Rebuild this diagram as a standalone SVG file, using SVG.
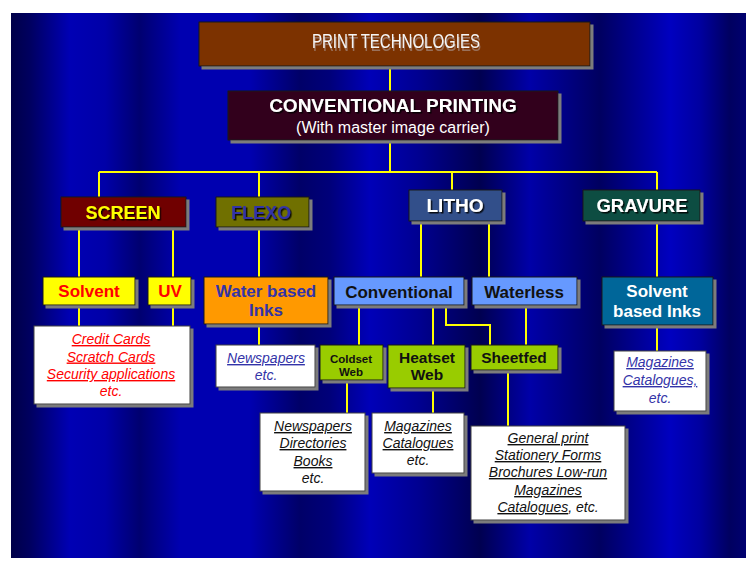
<svg xmlns="http://www.w3.org/2000/svg" width="746" height="561" viewBox="0 0 746 561">
<defs>
<linearGradient id="bg" gradientUnits="userSpaceOnUse" x1="11" y1="0" x2="746" y2="0">
<stop offset="0" stop-color="#000048"/>
<stop offset="0.026" stop-color="#000060"/>
<stop offset="0.080" stop-color="#0000b4"/>
<stop offset="0.128" stop-color="#0000a8"/>
<stop offset="0.175" stop-color="#000070"/>
<stop offset="0.230" stop-color="#0000b0"/>
<stop offset="0.325" stop-color="#0000b0"/>
<stop offset="0.393" stop-color="#000068"/>
<stop offset="0.434" stop-color="#00007a"/>
<stop offset="0.488" stop-color="#0000b8"/>
<stop offset="0.556" stop-color="#000090"/>
<stop offset="0.638" stop-color="#000050"/>
<stop offset="0.706" stop-color="#0000a8"/>
<stop offset="0.801" stop-color="#000060"/>
<stop offset="0.897" stop-color="#0000c0"/>
<stop offset="0.937" stop-color="#0000a0"/>
<stop offset="0.978" stop-color="#000060"/>
<stop offset="1" stop-color="#000070"/>
</linearGradient>
<filter id="bs" x="-5%" y="-10%" width="115%" height="135%">
<feFlood flood-color="#7c7c7c"/>
<feComposite in2="SourceAlpha" operator="in"/>
<feOffset dx="3" dy="3"/>
<feMerge><feMergeNode/><feMergeNode in="SourceGraphic"/></feMerge>
</filter>
<filter id="ts" x="-10%" y="-30%" width="120%" height="170%">
<feDropShadow dx="1.5" dy="1.5" stdDeviation="0.4" flood-color="#000" flood-opacity="0.85"/>
</filter>
<filter id="ts2" x="-10%" y="-30%" width="120%" height="180%">
<feDropShadow dx="1" dy="3" stdDeviation="0.3" flood-color="#a08070" flood-opacity="0.8"/>
</filter>
</defs>
<style>
.box{stroke:#1a1a1a;stroke-width:1;filter:url(#bs)}
.wbox{fill:#fff;stroke:#404040;stroke-width:1;filter:url(#bs)}
.t{font-family:"Liberation Sans",Arial,sans-serif;text-anchor:middle}
.b{font-weight:bold}
.sh{filter:url(#ts)}
.it{font-style:italic;font-size:14px}
.u{text-decoration:underline}
.red{fill:#ff0000}
.blu{fill:#3333a8}
.blk{fill:#111}
.con{fill:none;stroke:#ffff00;stroke-width:2}
</style>
<rect x="0" y="0" width="746" height="561" fill="#fff"/>
<rect x="11" y="13" width="735" height="545" fill="url(#bg)"/>

<g id="connectors" class="con">
<path d="M390 66V91"/>
<path d="M390 140V172"/>
<path d="M99 172H657"/>
<path d="M99 172V197M259 172V197M452 172V190M657 172V190"/>
<path d="M79 227V277M173 227V277M79 305V326M173 305V326"/>
<path d="M259 227V277M259 324V345"/>
<path d="M421 221V277M489 221V277"/>
<path d="M657 221V277M657 325V351"/>
<path d="M359 305V345M433 305V345M446 305V325H490V345M526 305V345"/>
<path d="M347 380V413M433 388V413M508 370V426"/>
</g>

<g id="print-technologies">
<rect class="box" x="199" y="22" width="391" height="44" fill="#7b3200"/>
<text class="t" x="396" y="48" font-size="21" fill="#f4f4f4" textLength="168" lengthAdjust="spacingAndGlyphs" filter="url(#ts2)">PRINT  TECHNOLOGIES</text>
</g>

<g id="conventional-printing">
<rect class="box" x="228" y="91" width="330" height="49" fill="#32001a"/>
<text class="t b sh" x="393" y="112" font-size="19" fill="#fff">CONVENTIONAL PRINTING</text>
<text class="t" x="393" y="133" font-size="16" fill="#fff">(With master image carrier)</text>
</g>

<g id="screen">
<rect class="box" x="61" y="197" width="125" height="30" fill="#700000"/>
<text class="t b sh" x="123" y="218.5" font-size="18" fill="#ffff00">SCREEN</text>
</g>
<g id="flexo">
<rect class="box" x="216" y="197" width="93" height="30" fill="#707000"/>
<text class="t b sh" x="261" y="218.5" font-size="18" fill="#3333a8">FLEXO</text>
</g>
<g id="litho">
<rect class="box" x="409" y="190" width="93" height="31" fill="#33508a"/>
<text class="t b sh" x="455" y="212" font-size="19" fill="#fff">LITHO</text>
</g>
<g id="gravure">
<rect class="box" x="583" y="190" width="117" height="31" fill="#0b4d42"/>
<text class="t b sh" x="642" y="212" font-size="18.5" fill="#fff">GRAVURE</text>
</g>

<g id="solvent">
<rect class="box" x="43" y="277" width="92" height="28" fill="#ffff00"/>
<text class="t b" x="89" y="297" font-size="17" fill="#ff0000">Solvent</text>
</g>
<g id="uv">
<rect class="box" x="148" y="277" width="43" height="28" fill="#ffff00"/>
<text class="t b" x="170" y="297" font-size="17" fill="#ff0000">UV</text>
</g>
<g id="water-based-inks">
<rect class="box" x="204" y="277" width="124" height="47" fill="#ff9900"/>
<text class="t b" x="266" y="297" font-size="17" fill="#3333a8">Water based</text>
<text class="t b" x="266" y="316" font-size="17" fill="#3333a8">Inks</text>
</g>
<g id="conventional">
<rect class="box" x="334" y="277" width="130" height="28" fill="#6699ff"/>
<text class="t b blk" x="399" y="298" font-size="17">Conventional</text>
</g>
<g id="waterless">
<rect class="box" x="472" y="277" width="105" height="28" fill="#6699ff"/>
<text class="t b blk" x="524" y="298" font-size="17">Waterless</text>
</g>
<g id="solvent-based-inks">
<rect class="box" x="602" y="277" width="111" height="48" fill="#006699"/>
<text class="t b" x="657" y="297" font-size="17" fill="#fff">Solvent</text>
<text class="t b" x="657" y="317" font-size="17" fill="#fff">based Inks</text>
</g>

<g id="screen-uses">
<rect class="wbox" x="34" y="326" width="156" height="78"/>
<text class="t it u red" x="111" y="344">Credit Cards</text>
<text class="t it u red" x="111" y="361.5">Scratch Cards</text>
<text class="t it u red" x="111" y="379">Security applications</text>
<text class="t it red" x="111" y="396">etc.</text>
</g>
<g id="flexo-uses">
<rect class="wbox" x="216" y="345" width="99" height="42"/>
<text class="t it u blu" x="266" y="363">Newspapers</text>
<text class="t it blu" x="266" y="380">etc.</text>
</g>
<g id="coldset-web">
<rect class="box" x="320" y="345" width="63" height="35" fill="#99cc00"/>
<text class="t b blk" x="351" y="363" font-size="11.5">Coldset</text>
<text class="t b blk" x="351" y="376" font-size="11.5">Web</text>
</g>
<g id="heatset-web">
<rect class="box" x="388" y="345" width="77" height="43" fill="#99cc00"/>
<text class="t b blk" x="427" y="363" font-size="15.5">Heatset</text>
<text class="t b blk" x="427" y="380" font-size="15.5">Web</text>
</g>
<g id="sheetfed">
<rect class="box" x="471" y="345" width="87" height="25" fill="#99cc00"/>
<text class="t b blk" x="514" y="363" font-size="15.5">Sheetfed</text>
</g>
<g id="gravure-uses">
<rect class="wbox" x="614" y="351" width="92" height="60"/>
<text class="t it u blu" x="660" y="367">Magazines</text>
<text class="t it u blu" x="660" y="385">Catalogues,</text>
<text class="t it blu" x="660" y="403">etc.</text>
</g>

<g id="coldset-uses">
<rect class="wbox" x="260" y="413" width="105" height="78"/>
<text class="t it u blk" x="313" y="431">Newspapers</text>
<text class="t it u blk" x="313" y="448">Directories</text>
<text class="t it u blk" x="313" y="466">Books</text>
<text class="t it blk" x="313" y="483">etc.</text>
</g>
<g id="heatset-uses">
<rect class="wbox" x="372" y="413" width="92" height="60"/>
<text class="t it u blk" x="418" y="431">Magazines</text>
<text class="t it u blk" x="418" y="448">Catalogues</text>
<text class="t it blk" x="418" y="465">etc.</text>
</g>
<g id="sheetfed-uses">
<rect class="wbox" x="471" y="426" width="154" height="94"/>
<text class="t it u blk" x="548" y="443">General print</text>
<text class="t it u blk" x="548" y="460">Stationery Forms</text>
<text class="t it u blk" x="548" y="477">Brochures Low-run</text>
<text class="t it u blk" x="548" y="495">Magazines</text>
<text class="t it blk" x="548" y="512"><tspan class="u">Catalogues</tspan>, etc.</text>
</g>
</svg>
